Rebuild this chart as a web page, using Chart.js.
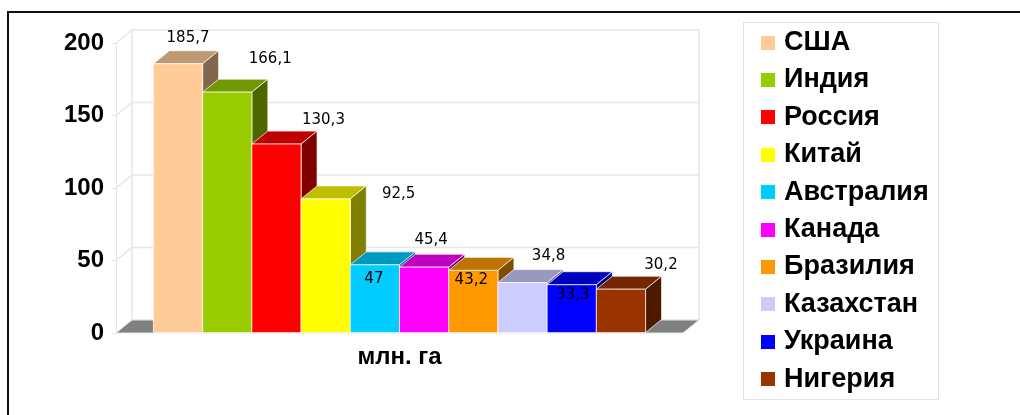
<!DOCTYPE html>
<html lang="ru">
<head>
  <meta charset="UTF-8">
  <title>Площадь пашни, млн. га</title>
  <script src="https://cdn.jsdelivr.net/npm/chart.js"></script>
  <style>
    body { margin: 0; background: #fff; font-family: 'Liberation Sans', Arial, sans-serif; }
    #wrap { position: relative; width: 1020px; height: 415px; overflow: hidden; }
    #frame { position: absolute; left: 7px; top: 11px; width: 1100px; height: 500px; border-top: 2px solid #111; border-left: 2px solid #111; }
    canvas { position: absolute; left: 0; top: 0; }
    #legend { position: absolute; left: 743px; top: 22px; width: 194px; height: 376px; border: 1px solid #e4e4e4; }
    .row { display: flex; align-items: center; height: 37.4px; padding-left: 17px; }
    .sw { width: 14px; height: 14px; margin-right: 9px; position: relative; top: 1px; }
    .txt { font-weight: bold; font-size: 27px; line-height: 37.4px; color: #000; }
  </style>
</head>
<body>
  <div id="wrap">
    <div id="frame"></div>
    <canvas id="chart" width="1020" height="415"></canvas>
    <div id="legend"></div>
  </div>

  <script>
    // данные
    const countries = ['США', 'Индия', 'Россия', 'Китай', 'Австралия', 'Канада', 'Бразилия', 'Казахстан', 'Украина', 'Нигерия'];
    const areas = [185.7, 166.1, 130.3, 92.5, 47, 45.4, 43.2, 34.8, 33.3, 30.2];
    const category = ['млн. га'];
    const colors = ['#FFCC99', '#99CC00', '#FF0000', '#FFFF00', '#00CCFF', '#FF00FF', '#FF9900', '#CCCCFF', '#0000FF', '#993300'];

    // сдвиг подписей относительно верха бара (как в исходной картинке)
    const labelShift = [[10, -26], [43, -33], [47, -24], [73, -5], [-1, 14], [7, -27], [-2, 10], [26, -26], [1, 10], [40, -24]];

    const DX = 16, DY = -13; // глубина 3D
    const axisFont = { family: '"Liberation Sans Narrow", "Liberation Sans", Arial', weight: 'bold', size: 24 };

    const shade = (hex, k) => {
      const n = parseInt(hex.slice(1), 16);
      return `rgb(${Math.round((n >> 16 & 255) * k)},${Math.round((n >> 8 & 255) * k)},${Math.round((n & 255) * k)})`;
    };

    const poly = (ctx, pts, fill) => {
      ctx.beginPath();
      pts.forEach((p, i) => i ? ctx.lineTo(p[0], p[1]) : ctx.moveTo(p[0], p[1]));
      ctx.closePath();
      ctx.fillStyle = fill;
      ctx.fill();
      ctx.stroke();
    };

    const box3d = {
      id: 'box3d',
      beforeDatasetsDraw(chart) {
        const { ctx, chartArea: { left, right, top, bottom }, scales: { y } } = chart;
        ctx.save();
        ctx.strokeStyle = '#e6e6e6';
        ctx.lineWidth = 1.5;
        // задняя стенка и левая грань
        y.ticks.forEach(t => {
          const py = y.getPixelForValue(t.value);
          ctx.beginPath();
          ctx.moveTo(left, py);
          ctx.lineTo(left + DX, py + DY);
          ctx.lineTo(right + DX, py + DY);
          ctx.stroke();
        });
        ctx.beginPath();
        ctx.moveTo(left + DX, top + DY); ctx.lineTo(left + DX, bottom + DY);
        ctx.moveTo(right + DX, top + DY); ctx.lineTo(right + DX, bottom + DY);
        ctx.stroke();
        // пол
        ctx.strokeStyle = '#e6e6e6';
        ctx.lineWidth = 1;
        poly(ctx, [[left, bottom], [right, bottom], [right + DX, bottom + DY], [left + DX, bottom + DY]], '#808080');
        ctx.restore();
      },
      afterDatasetsDraw(chart) {
        const ctx = chart.ctx;
        ctx.save();
        ctx.lineWidth = 1;
        ctx.strokeStyle = 'rgba(255,255,255,0.7)';
        const bars = [];
        chart.data.datasets.forEach((ds, i) => {
          const bar = chart.getDatasetMeta(i).data[0];
          const { x, y, base, width } = bar.getProps(['x', 'y', 'base', 'width'], true);
          const l = x - width / 2, r = x + width / 2;
          poly(ctx, [[l, y], [r, y], [r + DX, y + DY], [l + DX, y + DY]], shade(ds.backgroundColor, 0.75));
          poly(ctx, [[r, y], [r + DX, y + DY], [r + DX, base + DY], [r, base]], shade(ds.backgroundColor, 0.5));
          poly(ctx, [[l, y], [r, y], [r, base], [l, base]], ds.backgroundColor);
          bars.push({ x, y, v: ds.data[0] });
        });
        // подписи значений
        ctx.font = '15px "DejaVu Sans", Verdana, sans-serif';
        ctx.fillStyle = '#000';
        ctx.textAlign = 'center';
        ctx.textBaseline = 'middle';
        bars.forEach((b, i) => {
          ctx.fillText(String(b.v).replace('.', ','), b.x + labelShift[i][0], b.y + labelShift[i][1]);
        });
        ctx.restore();
      }
    };

    new Chart(document.getElementById('chart'), {
      type: 'bar',
      data: {
        labels: category,
        datasets: countries.map((c, i) => ({ label: c, data: [areas[i]], backgroundColor: colors[i], borderWidth: 0 }))
      },
      options: {
        responsive: false,
        animation: false,
        devicePixelRatio: 1,
        datasets: { bar: { categoryPercentage: 0.868, barPercentage: 1 } },
        layout: { padding: { top: 43, right: 337, bottom: 0, left: 0 } },
        plugins: { legend: { display: false }, tooltip: { enabled: false } },
        scales: {
          x: {
            grid: { display: false, drawTicks: false },
            border: { display: false },
            ticks: { color: '#000', font: axisFont, padding: 10 },
            afterFit(s) { s.height = 82; }
          },
          y: {
            min: 0,
            max: 200,
            ticks: { stepSize: 50, color: '#000', font: axisFont, padding: 8 },
            grid: { drawOnChartArea: false, color: '#e6e6e6', tickLength: 4 },
            border: { color: '#e6e6e6' },
            afterFit(s) { s.width = 116; }
          }
        }
      },
      plugins: [box3d]
    });

    // легенда
    document.getElementById('legend').innerHTML = countries.map((c, i) =>
      `<div class="row"><span class="sw" style="background:${colors[i]}"></span><span class="txt">${c}</span></div>`
    ).join('');
  </script>
</body>
</html>
